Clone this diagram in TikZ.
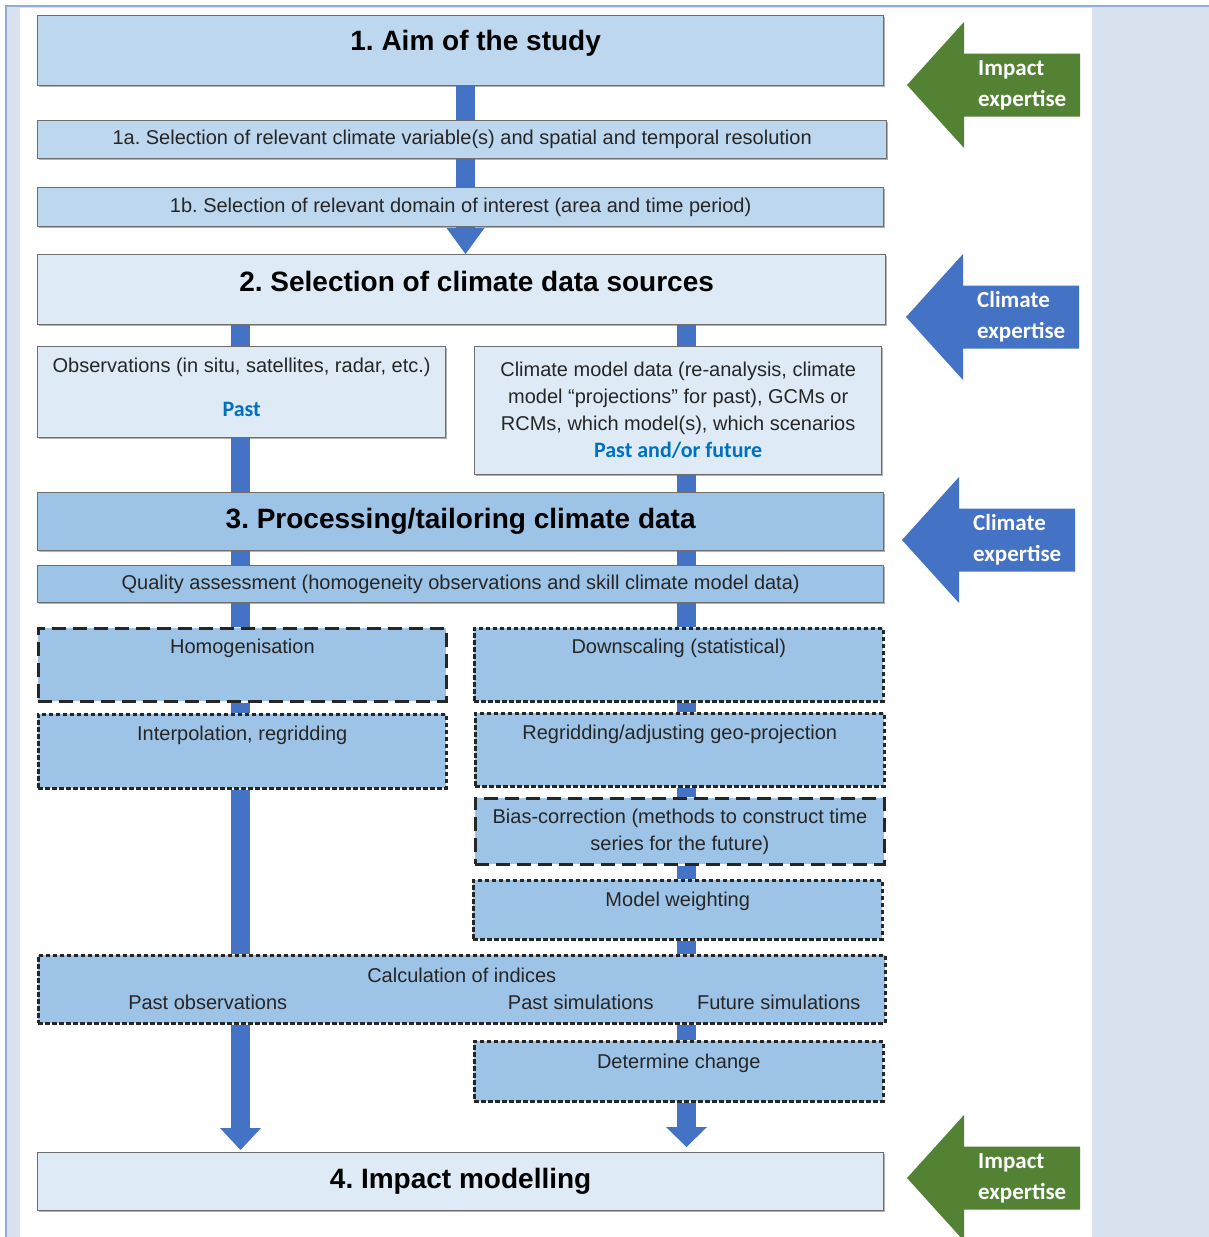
\documentclass[tikz,border=0pt]{standalone}
\usepackage{fontspec}
\setmainfont{Liberation Sans}
\newfontfamily\calibri{Carlito}
\usetikzlibrary{arrows.meta, positioning, shadows}
\frenchspacing

\definecolor{boxpale}{HTML}{DEEBF7}
\definecolor{boxlight}{HTML}{BDD7EE}
\definecolor{boxmid}{HTML}{9DC3E6}
\definecolor{barblue}{HTML}{4472C4}
\definecolor{impactgreen}{HTML}{548235}
\definecolor{climateblue}{HTML}{4472C4}
\definecolor{pastblue}{HTML}{0070C0}
\definecolor{framecol}{HTML}{8FAADC}
\definecolor{panel}{HTML}{D9E3F0}
\definecolor{boxline}{HTML}{6E6E6E}
\definecolor{textgray}{HTML}{262626}

\begin{document}
\begin{tikzpicture}[x=1pt, y=-1pt,
  box/.style={draw=boxline, line width=1.3pt, anchor=north west, inner sep=0pt,
    drop shadow={shadow xshift=1.5pt, shadow yshift=-1.5pt, opacity=0.3, fill=black}},
  dashbox/.style={draw=black!85, line width=2.5pt, dash pattern=on 4.5pt off 2.5pt,
    anchor=north west, inner sep=0pt, fill=boxmid},
  longdash/.style={dashbox, line width=2.8pt, dash pattern=on 14pt off 7pt},
  title/.style={font=\bfseries\fontsize{28}{32}\selectfont, inner sep=0pt},
  txt/.style={font=\fontsize{20}{27}\selectfont, text=textgray, align=center, inner sep=0pt},
  past/.style={font=\calibri\bfseries\fontsize{22}{27}\selectfont, text=pastblue, inner sep=0pt},
  exptext/.style={font=\calibri\bfseries\fontsize{23}{31}\selectfont, text=white,
    align=left, inner sep=0pt, anchor=west},
  bar/.style={draw=barblue, line width=19pt},
  ]

  \useasboundingbox (0,0) rectangle (1209,1237);
  % page background
  \fill[white] (0,0) rectangle (1209,1237);
  \fill[panel] (6,6) rectangle (1209,1237);
  \fill[white] (20,8) rectangle (1092,1237);
  \draw[framecol, line width=1.5pt] (6,1237) -- (6,6) -- (1209,6);

  % 1. aim
  \node[box, fill=boxlight, minimum width=846pt, minimum height=70pt] (aim) at (37,15) {};
  \node[title] (aim-t) at ([xshift=15pt, yshift=-28pt]aim.north) {1. Aim of the study};
  \node[box, txt, fill=boxlight, minimum width=849pt, minimum height=38pt] (sel1a) at (37,120)
    {1a. Selection of relevant climate variable(s) and spatial and temporal resolution};
  \node[box, txt, fill=boxlight, minimum width=846pt, minimum height=39pt] (sel1b) at (37,187)
    {1b. Selection of relevant domain of interest (area and time period)};

  % 2. sources
  \node[box, fill=boxpale, minimum width=848pt, minimum height=70pt] (sources) at (37,254) {};
  \node[title] (sources-t) at ([xshift=15pt, yshift=-27pt]sources.north) {2. Selection of climate data sources};
  \node[box, fill=boxpale, minimum width=408pt, minimum height=91pt] (obs) at (37,346) {};
  \node[txt] (obs-t) at ([yshift=-21pt]obs.north) {Observations (in situ, satellites, radar, etc.)};
  \node[past] (obs-p) at ([yshift=-63pt]obs.north) {Past};
  \node[box, txt, fill=boxpale, minimum width=407pt, minimum height=128pt] (model) at (474,346)
    {Climate model data (re-analysis, climate\\model “projections” for past), GCMs or\\RCMs, which model(s), which scenarios\\
     {\calibri\bfseries\fontsize{22}{27}\selectfont\color{pastblue}Past and/or future}};

  % 3. processing
  \node[box, title, fill=boxmid, minimum width=846pt, minimum height=58pt] (proc) at (37,492)
    {3. Processing/tailoring climate data};
  \node[box, txt, fill=boxmid, minimum width=846pt, minimum height=37pt] (qa) at (37,565)
    {Quality assessment (homogeneity observations and skill climate model data)};
  \node[longdash, minimum width=408pt, minimum height=73pt] (homog) at (37,627) {};
  \node[txt] (homog-t) at ([yshift=-21pt]homog.north) {Homogenisation};
  \node[dashbox, minimum width=408pt, minimum height=74pt] (interp) at (37,713) {};
  \node[txt] (interp-t) at ([yshift=-22pt]interp.north) {Interpolation, regridding};
  \node[dashbox, minimum width=409pt, minimum height=73pt] (down) at (473,627) {};
  \node[txt] (down-t) at ([yshift=-21pt]down.north) {Downscaling (statistical)};
  \node[dashbox, minimum width=409pt, minimum height=73pt] (regrid) at (474,712) {};
  \node[txt] (regrid-t) at ([yshift=-22pt]regrid.north) {Regridding/adjusting geo-projection};
  \node[longdash, txt, minimum width=409pt, minimum height=66pt] (bias) at (474,797)
    {Bias-correction (methods to construct time\\series for the future)};
  \node[dashbox, minimum width=409pt, minimum height=59pt] (weight) at (472,879) {};
  \node[txt] (weight-t) at ([yshift=-22pt]weight.north) {Model weighting};
  \node[dashbox, minimum width=847pt, minimum height=68pt] (calc) at (37,954) {};
  \node[txt] (calc-t) at ([yshift=-21pt]calc.north) {Calculation of indices};
  \node[txt] (calc-po) at ([xshift=-254pt, yshift=-48pt]calc.north) {Past observations};
  \node[txt] (calc-ps) at ([xshift=119pt, yshift=-48pt]calc.north) {Past simulations};
  \node[txt] (calc-fs) at ([xshift=317pt, yshift=-48pt]calc.north) {Future simulations};
  \node[dashbox, minimum width=409pt, minimum height=60pt] (change) at (473,1040) {};
  \node[txt] (change-t) at ([yshift=-23pt]change.north) {Determine change};

  % 4. impact
  \node[box, title, fill=boxpale, minimum width=846pt, minimum height=58pt] (impact) at (37,1152)
    {4. Impact modelling};

  % flow bars
  \coordinate (tcol) at (465.5,0);
  \coordinate (lcol) at (240.5,0);
  \coordinate (rcol) at (686.5,0);
  \foreach \a/\b in {aim/sel1a, sel1a/sel1b}
    \draw[bar] (\a.south -| tcol) -- (\b.north -| tcol);
  \draw[bar, -{Triangle[width=38pt, length=26pt, line width=0pt]}] (sel1b.south -| tcol) -- (sources.north -| tcol);
  \foreach \a/\b in {sources/obs, obs/proc, proc/qa, qa/homog, homog/interp, interp/calc}
    \draw[bar] (\a.south -| lcol) -- (\b.north -| lcol);
  \draw[bar, shorten >=2pt, -{Triangle[width=41pt, length=22pt, line width=0pt]}] (calc.south -| lcol) -- (impact.north -| lcol);
  \foreach \a/\b in {sources/model, model/proc, proc/qa, qa/down, down/regrid, regrid/bias, bias/weight, weight/calc, calc/change}
    \draw[bar] (\a.south -| rcol) -- (\b.north -| rcol);
  \draw[bar, shorten >=5pt, -{Triangle[width=41pt, length=20pt, line width=0pt]}] (change.south -| rcol) -- (impact.north -| rcol);

  % expertise arrows
  \foreach \tx/\ty/\col/\word [count=\i] in {907/85/impactgreen/Impact, 906/317/climateblue/Climate,
      902/540/climateblue/Climate, 907/1178/impactgreen/Impact} {
    \fill[\col] (\tx,\ty) -- ++(57,-63) -- ++(0,31.5) -- ++(116,0) -- ++(0,63) -- ++(-116,0) -- ++(0,31.5) -- cycle;
    \node[exptext] (exp\i) at (\tx+71,\ty) {\word\\expertise};
  }

\end{tikzpicture}
\end{document}
